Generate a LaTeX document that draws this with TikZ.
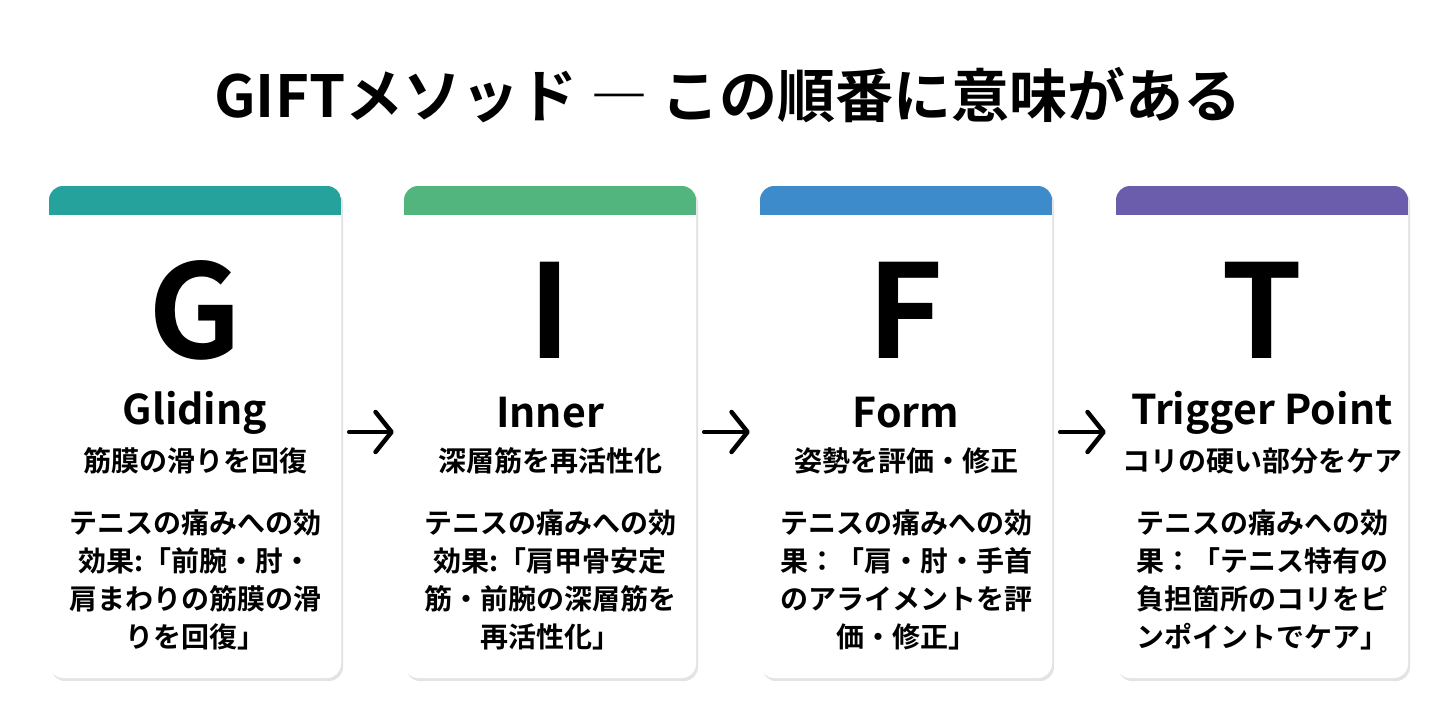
\documentclass[tikz,border=0pt]{standalone}
\usepackage{fontspec}
\setmainfont{Noto Sans CJK JP}[BoldFont={Noto Sans CJK JP Bold}]
\usepackage{xcolor}
\usetikzlibrary{arrows.meta,shadows}

\definecolor{gteal}{HTML}{26A29D}
\definecolor{igreen}{HTML}{52B57E}
\definecolor{fblue}{HTML}{3D8BCB}
\definecolor{tpurple}{HTML}{6B5DAB}

\newcommand{\cardhead}[1]{%
  \fill[#1, sharp corners] (path picture bounding box.north west) rectangle ([yshift=-29pt]path picture bounding box.north east);}

\begin{document}
\begin{tikzpicture}[x=1pt, y=-1pt,
    card/.style={rectangle, rounded corners=14pt, fill=white, minimum width=292pt, minimum height=492pt,
      drop shadow={opacity=0.22, shadow xshift=2pt, shadow yshift=-3pt}},
    bigletter/.style={font=\bfseries\fontsize{130}{130}\selectfont},
    cardname/.style={font=\bfseries\fontsize{41}{41}\selectfont},
    cardsub/.style={font=\bfseries\fontsize{28}{30}\selectfont},
    cardbody/.style={font=\bfseries\fontsize{28}{38}\selectfont, align=center},
    arr/.style={line width=4.5pt, line cap=round, line join=round,
      -{Straight Barb[length=16pt, width=40pt, round]}, shorten <=8pt, shorten >=10pt}]

    \useasboundingbox (0,0) rectangle (1456,720);

    \node (title) at (728, 95) {\bfseries\fontsize{58}{58}\selectfont GIFTメソッド ― この順番に意味がある};

    \node[card, path picture={\cardhead{gteal}}] (g) at (195, 432) {};
    \node[card, path picture={\cardhead{igreen}}] (i) at (550, 432) {};
    \node[card, path picture={\cardhead{fblue}}] (f) at (906, 432) {};
    \node[card, path picture={\cardhead{tpurple}}] (t) at (1262, 432) {};

    \node[bigletter] (gl) at (195, 310) {G};
    \node[cardname] (gn) at (195, 413) {Gliding};
    \node[cardsub] (gs) at (195, 461) {筋膜の滑りを回復};
    \node[cardbody] (gb) at (195, 580) {テニスの痛みへの効\\効果:「前腕・肘・\\肩まわりの筋膜の滑\\りを回復」};

    \node[bigletter] (il) at (550, 310) {I};
    \node[cardname] (in) at (550, 413) {Inner};
    \node[cardsub] (is) at (550, 461) {深層筋を再活性化};
    \node[cardbody] (ib) at (550, 580) {テニスの痛みへの効\\効果:「肩甲骨安定\\筋・前腕の深層筋を\\再活性化」};

    \node[bigletter] (fl) at (906, 310) {F};
    \node[cardname] (fn) at (906, 413) {Form};
    \node[cardsub] (fs) at (906, 461) {姿勢を評価・修正};
    \node[cardbody] (fb) at (906, 580) {テニスの痛みへの効\\果：「肩・肘・手首\\のアライメントを評\\価・修正」};

    \node[bigletter] (tl) at (1262, 310) {T};
    \node[cardname] (tn) at (1262, 413) {Trigger Point};
    \node[cardsub] (ts) at (1262, 461) {コリの硬い部分をケア};
    \node[cardbody] (tb) at (1262, 580) {テニスの痛みへの効\\果：「テニス特有の\\負担箇所のコリをピ\\ンポイントでケア」};

    \draw [arr] (g.east) -- (i.west);
    \draw [arr] (i.east) -- (f.west);
    \draw [arr] (f.east) -- (t.west);

\end{tikzpicture}
\end{document}
